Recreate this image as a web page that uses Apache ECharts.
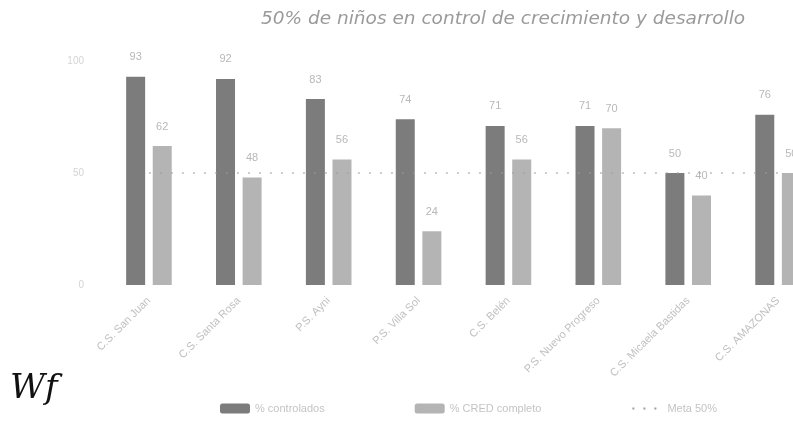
<!DOCTYPE html>
<html>
<head>
<meta charset="utf-8">
<script src="https://cdn.jsdelivr.net/npm/echarts@6/dist/echarts.min.js"></script>
<style>
  html, body { margin: 0; padding: 0; background: #fff; }
  #chart { width: 793px; height: 421px; }
</style>
</head>
<body>
<div id="chart"></div>
<script>
const categories = ['C.S. San Juan', 'C.S. Santa Rosa', 'P.S. Ayni', 'P.S. Villa Sol', 'C.S. Belén', 'P.S. Nuevo Progreso', 'C.S. Micaela Bastidas', 'C.S. AMAZONAS'];
const controlados = [93, 92, 83, 74, 71, 71, 50, 76];
const crecimiento = [62, 48, 56, 24, 56, 70, 40, 50];
const meta = [50, 50, 50, 50, 50, 50, 50, 50];

const barLabel = {
  show: true,
  position: 'top',
  distance: 14,
  color: '#b8b8b8',
  fontSize: 11
};

let chart = echarts.init(document.getElementById('chart'));

chart.setOption({
  animation: false,
  title: {
    text: '50% de niños en control de crecimiento y desarrollo',
    left: 256,
    top: 5,
    textStyle: { color: '#9a9a9a', fontSize: 18.5, fontWeight: 'normal', fontStyle: 'italic', fontFamily: 'DejaVu Sans' }
  },
  legend: {
    bottom: 2,
    left: 215,
    itemGap: 90,
    itemWidth: 30,
    itemHeight: 10,
    textStyle: { color: '#c4c4c4', fontSize: 11 },
    data: [
      '% controlados',
      '% CRED completo',
      { name: 'Meta 50%', itemStyle: { opacity: 0 } }
    ]
  },
  grid: {
    left: 104,
    width: 719,
    top: 61,
    bottom: 136,
    outerBoundsMode: 'none'
  },
  xAxis: {
    type: 'category',
    data: categories,
    axisLine: { show: false },
    axisTick: { show: false },
    axisLabel: { rotate: 45, color: '#c0c0c0', fontSize: 11, margin: 14 }
  },
  yAxis: {
    type: 'value',
    min: 0,
    max: 100,
    interval: 50,
    splitLine: { show: false },
    axisLine: { show: false },
    axisTick: { show: false },
    axisLabel: { color: '#d4d4d4', fontSize: 10, margin: 20 }
  },
  series: [
    {
      name: '% controlados',
      type: 'bar',
      data: controlados,
      barWidth: 19,
      barGap: '40%',
      itemStyle: { color: '#7c7c7c' },
      label: barLabel
    },
    {
      name: '% CRED completo',
      type: 'bar',
      data: crecimiento,
      barWidth: 19,
      itemStyle: { color: '#b4b4b4' },
      label: barLabel
    },
    {
      name: 'Meta 50%',
      type: 'line',
      data: meta,
      symbol: 'none',
      z: 5,
      itemStyle: { color: '#9c9c9c' },
      lineStyle: { color: '#9c9c9c', width: 1, type: [2, 9] }
    }
  ],
  graphic: [
    {
      type: 'text',
      left: 10,
      top: 372,
      style: { text: 'Wf', fill: '#111', font: 'italic 34px "DejaVu Serif"' }
    }
  ]
});
</script>
</body>
</html>
